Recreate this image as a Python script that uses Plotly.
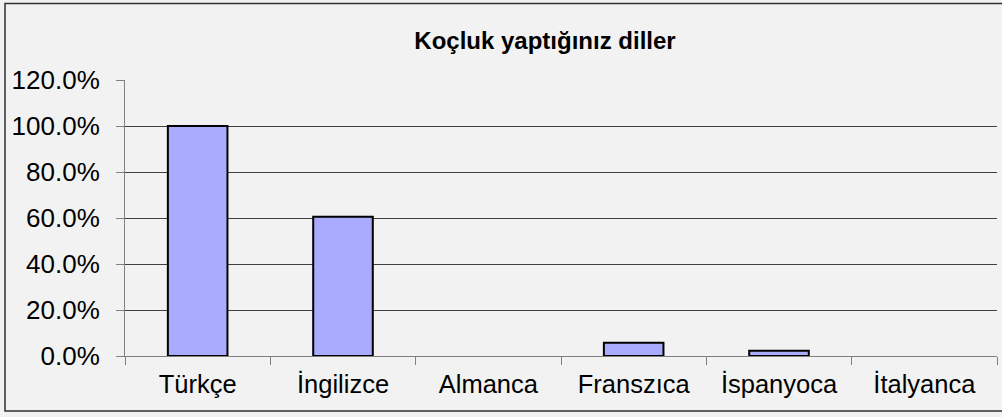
import plotly.graph_objects as go

categories = ["Türkçe", "İngilizce", "Almanca", "Franszıca", "İspanyoca", "İtalyanca"]
values = [1.0, 0.605, 0.0, 0.058, 0.023, 0.0]
y_ticks = [0, 0.2, 0.4, 0.6, 0.8, 1.0, 1.2]
y_tick_labels = ["0.0%", "20.0%", "40.0%", "60.0%", "80.0%", "100.0%", "120.0%"]
title_text = "Koçluk yaptığınız diller"

FONT = "Liberation Sans, Arial, sans-serif"

fig = go.Figure()
fig.add_trace(go.Bar(
    x=categories, y=values,
    marker=dict(color="#aaaaff",
                line=dict(color="#000000", width=[2 if v > 0 else 0 for v in values])),
    width=0.41,
))

W, H = 1002, 417
L, R, T, B = 125, 5, 80, 61
pw = W - L - R
ph = H - T - B

def px_x(p):
    return (p - L) / pw

def px_y(p):
    return 1 - (p - T) / ph

fig.update_layout(
    width=W, height=H,
    margin=dict(l=L, r=R, t=T, b=B),
    paper_bgcolor="#f2f2f2",
    plot_bgcolor="#f2f2f2",
    showlegend=False,
    title=dict(text=title_text, x=545 / W, xanchor="center", xref="container",
               y=1 - 41 / H, yanchor="middle", yref="container",
               font=dict(family=FONT, size=24, color="#000000", weight="bold")),
    font=dict(family=FONT, size=25.5, color="#000000"),
    xaxis=dict(
        showgrid=False, showline=True, linecolor="#808080", linewidth=1,
        ticks="outside", tickson="boundaries", ticklen=8, tickcolor="#808080",
        ticklabelstandoff=5,
        tickfont=dict(family=FONT, size=25.5, color="#000000"),
        range=[-0.5, 5.5], fixedrange=True,
    ),
    yaxis=dict(
        range=[0, 1.2], tickvals=y_ticks, ticktext=y_tick_labels,
        showgrid=True, gridcolor="#404040", gridwidth=1,
        zeroline=False,
        showline=True, linecolor="#808080", linewidth=1,
        ticks="outside", ticklen=8, tickcolor="#808080",
        ticklabelstandoff=11,
        tickfont=dict(family=FONT, size=26, color="#000000"),
        fixedrange=True,
    ),
    shapes=[dict(type="rect", xref="paper", yref="paper",
                 x0=px_x(5), x1=px_x(1030), y0=px_y(411), y1=px_y(3.5),
                 line=dict(color="#303030", width=1.5), layer="below")],
)

fig.write_html(
    "out.html",
    config={"displayModeBar": False, "staticPlot": True},
    post_script="document.body.style.margin='0';document.body.style.overflow='hidden';",
)
